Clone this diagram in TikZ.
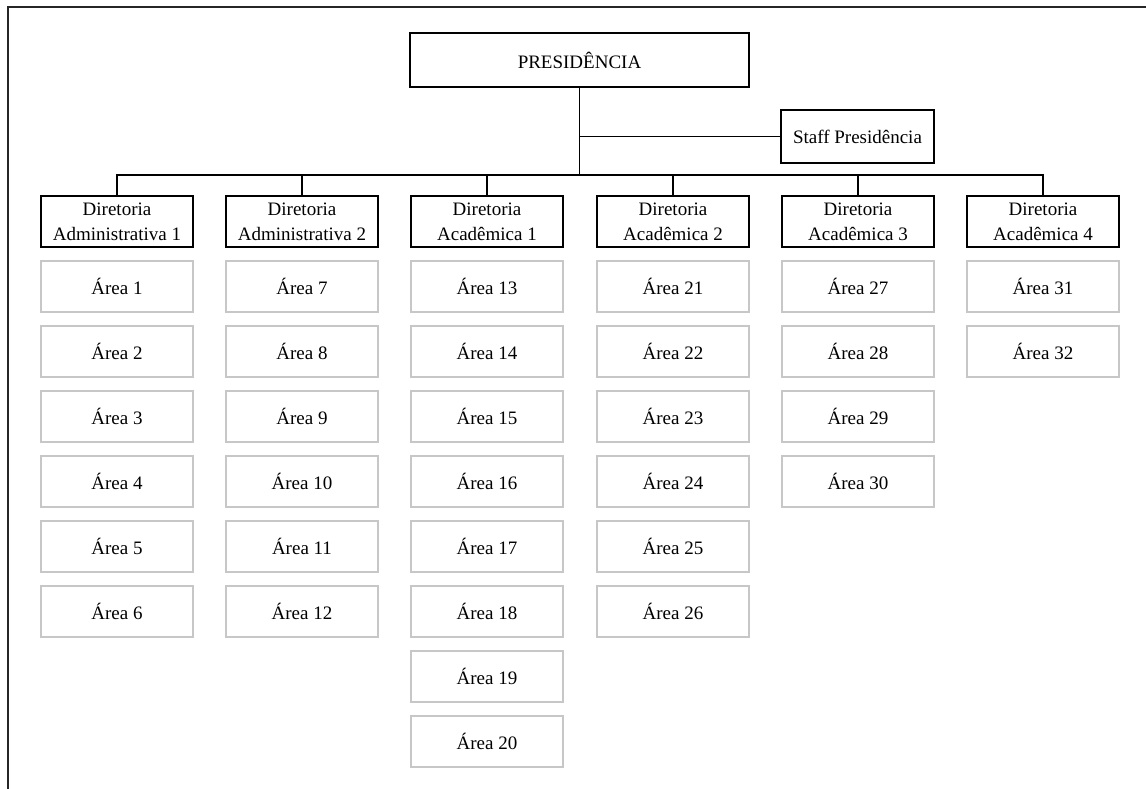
\documentclass[tikz,border=0pt]{standalone}
\usepackage{fontspec}
\setmainfont{Liberation Serif}
\begin{document}
\begin{tikzpicture}[x=1pt,y=-1pt,
  every node/.style={font=\fontsize{19}{25}\selectfont, align=center, inner sep=0pt},
  dirbox/.style={draw=black, line width=1.4pt, minimum width=152pt, minimum height=51pt},
  areabox/.style={draw=black!22, line width=1.4pt, minimum width=152pt, minimum height=51pt},
  conn/.style={draw=black, line width=1.4pt}]
\useasboundingbox (0,0) rectangle (1146,789);
\draw[line width=2pt, black!85] (8,789) -- (8,7) -- (1146,7);

\node[dirbox, minimum width=339pt, minimum height=54pt] (pres) at (579.5,60) {PRESIDÊNCIA};
\node[dirbox, minimum width=153pt, minimum height=53pt] (staff) at (857.5,136.5) {Staff Presidência};
\coordinate (bus) at (0,175);

\foreach \i/\x/\t in {1/117/{Diretoria\\Administrativa 1},2/302/{Diretoria\\Administrativa 2},3/487/{Diretoria\\Acadêmica 1},4/673/{Diretoria\\Acadêmica 2},5/858/{Diretoria\\Acadêmica 3},6/1043/{Diretoria\\Acadêmica 4}}{
  \node[dirbox] (d\i) at (\x,221.5) {\t};
}

\draw[conn] (pres.south) -- (pres.south |- bus);
\draw[conn] (staff.west) -- (staff.west -| pres.south);
\draw[conn] (d1.north) -- (d1.north |- bus) -- (d6.north |- bus) -- (d6.north);
\foreach \i in {2,3,4,5}{\draw[conn] (d\i.north) -- (d\i.north |- bus);}

% areas
\foreach \c/\x/\first/\last in {1/117/1/6,2/302/7/12,3/487/13/20,4/673/21/26,5/858/27/30,6/1043/31/32}{
  \foreach \n [evaluate=\n as \k using int(\n-\first)] in {\first,...,\last}{
    \node[areabox] (a\n) at (\x,{286.5+65*\k}) {Área \n};
  }
}
\end{tikzpicture}
\end{document}
